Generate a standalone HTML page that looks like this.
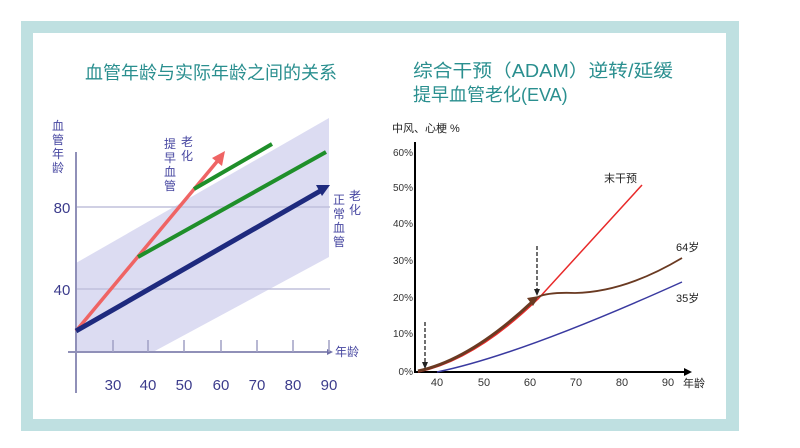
<!DOCTYPE html>
<html><head><meta charset="utf-8"><style>
body{margin:0;width:800px;height:443px;background:#fff;overflow:hidden}
svg text{font-family:"Liberation Sans","Noto Sans CJK SC",sans-serif}
</style></head><body>
<svg width="800" height="443" viewBox="0 0 800 443" xmlns="http://www.w3.org/2000/svg">
<rect x="21" y="21" width="718" height="410" fill="#bfe0e1"/>
<rect x="33" y="33" width="693" height="386" fill="#fff"/>
<g fill="#2a8f8f" font-size="18">
<text x="211" y="79" text-anchor="middle">血管年龄与实际年龄之间的关系</text>
<text x="413" y="77" textLength="260" lengthAdjust="spacingAndGlyphs">综合干预（ADAM）逆转/延缓</text>
<text x="413" y="101">提早血管老化(EVA)</text>
</g>
<!-- left chart -->
<polygon points="76,263 329,118 329,257 153,352 76,352" fill="#dcdcf2"/>
<line x1="76" y1="207" x2="330" y2="207" stroke="#c0c0dc" stroke-width="1.5"/>
<line x1="76" y1="289" x2="330" y2="289" stroke="#c0c0dc" stroke-width="1.5"/>
<line x1="76" y1="152" x2="76" y2="393" stroke="#9090b8" stroke-width="2"/>
<line x1="68" y1="352" x2="330" y2="352" stroke="#9090b8" stroke-width="2"/>
<polygon points="333,352 327,349 327,355" fill="#7070a8"/>
<g stroke="#a0a0c4" stroke-width="1.5">
<line x1="113" y1="340" x2="113" y2="352"/><line x1="148" y1="340" x2="148" y2="352"/><line x1="184" y1="340" x2="184" y2="352"/><line x1="221" y1="340" x2="221" y2="352"/><line x1="257" y1="340" x2="257" y2="352"/><line x1="293" y1="340" x2="293" y2="352"/><line x1="329" y1="340" x2="329" y2="352"/>
</g>
<g fill="#3c3c8c" font-size="15" text-anchor="middle">
<text x="113" y="390">30</text><text x="148" y="390">40</text><text x="184" y="390">50</text><text x="221" y="390">60</text><text x="257" y="390">70</text><text x="293" y="390">80</text><text x="329" y="390">90</text>
<text x="62" y="213">80</text><text x="62" y="295">40</text>
</g>
<g fill="#4646a0" font-size="12">
<text x="52" y="130">血</text><text x="52" y="144">管</text><text x="52" y="158">年</text><text x="52" y="172">龄</text>
<text x="164" y="148">提</text><text x="164" y="162">早</text><text x="164" y="176">血</text><text x="164" y="190">管</text>
<text x="181" y="146">老</text><text x="181" y="160">化</text>
<text x="333" y="204">正</text><text x="333" y="218">常</text><text x="333" y="232">血</text><text x="333" y="246">管</text>
<text x="349" y="200">老</text><text x="349" y="214">化</text>
<text x="335" y="356">年龄</text>
</g>
<line x1="76" y1="331" x2="220" y2="158" stroke="#ef6464" stroke-width="3.5"/>
<polygon points="225,151 222,166 212,158" fill="#ef6464"/>
<line x1="194" y1="189" x2="272" y2="144" stroke="#1f8f2a" stroke-width="4"/>
<line x1="138" y1="257" x2="326" y2="152" stroke="#1f8f2a" stroke-width="4"/>
<line x1="76" y1="331" x2="322" y2="190" stroke="#1e2a7e" stroke-width="5"/>
<polygon points="330,185 316,185 322,196" fill="#1e2a7e"/>
<!-- right chart -->
<line x1="415" y1="142" x2="415" y2="373" stroke="#000" stroke-width="2"/>
<line x1="414" y1="372" x2="686" y2="372" stroke="#000" stroke-width="2"/>
<polygon points="692,372 684,368 684,376" fill="#000"/>
<g fill="#333" font-size="10" text-anchor="end">
<text x="413" y="156">60%</text><text x="413" y="191">50%</text><text x="413" y="227">40%</text><text x="413" y="264">30%</text><text x="413" y="301">20%</text><text x="413" y="337">10%</text><text x="413" y="375">0%</text>
</g>
<g fill="#333" font-size="11" text-anchor="middle">
<text x="437" y="386">40</text><text x="484" y="386">50</text><text x="530" y="386">60</text><text x="576" y="386">70</text><text x="622" y="386">80</text><text x="668" y="386">90</text>
</g>
<g fill="#222" font-size="11">
<text x="392" y="132">中风、心梗 %</text>
<text x="604" y="182">末干预</text>
<text x="676" y="251">64岁</text>
<text x="676" y="302">35岁</text>
<text x="683" y="387">年龄</text>
</g>
<path d="M437,372 Q520,355 682,282" fill="none" stroke="#3a3aa0" stroke-width="1.5"/>
<path d="M418,372 Q475,360 538,299 L642,185" fill="none" stroke="#e82a2a" stroke-width="1.5"/>
<path d="M418,371 Q470,360 532,302" fill="none" stroke="#6a3a22" stroke-width="3"/>
<polygon points="539,296 527,298 533,306" fill="#6a3a22"/>
<path d="M538,297 Q548,292 575,293 Q625,292 682,258" fill="none" stroke="#6a3a22" stroke-width="1.8"/>
<line x1="425" y1="322" x2="425" y2="364" stroke="#222" stroke-width="1.3" stroke-dasharray="4,2"/>
<polygon points="425,369 422,362 428,362" fill="#222"/>
<line x1="537" y1="246" x2="537" y2="290" stroke="#222" stroke-width="1.3" stroke-dasharray="4,2"/>
<polygon points="537,296 534,289 540,289" fill="#222"/>
</svg>
</body></html>
